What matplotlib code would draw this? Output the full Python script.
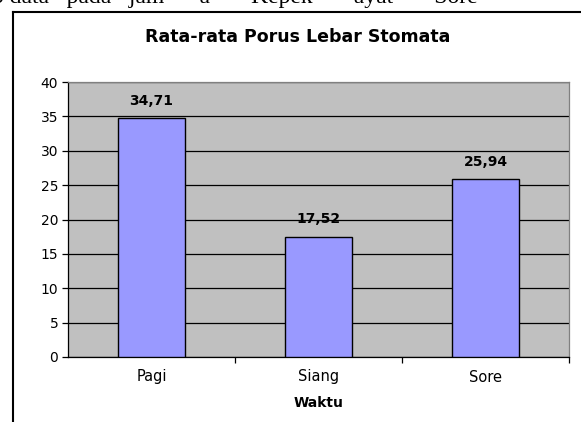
import matplotlib
matplotlib.use('Agg')
import matplotlib.pyplot as plt
from matplotlib.lines import Line2D

# data
waktu = ['Pagi', 'Siang', 'Sore']
nilai = [34.71, 17.52, 25.94]
label_nilai = ['34,71', '17,52', '25,94']
y_ticks = [0, 5, 10, 15, 20, 25, 30, 35, 40]

plt.rcParams['font.family'] = ['DejaVu Sans']

fig = plt.figure(figsize=(5.81, 4.22), dpi=100)

# sisa teks dokumen yang terpotong di atas
fig.text(-8 / 581, 1 - 3 / 422, 'o data   pada   jam      a       Kepek       ayat       Sore',
         ha='left', va='baseline', fontsize=17, family=['Liberation Serif', 'DejaVu Serif'])

# bingkai luar chart
fx = 13 / 581
fy = 1 - 12 / 422
fig.add_artist(Line2D([fx, fx], [0, fy], color='black', lw=1.5, transform=fig.transFigure))
fig.add_artist(Line2D([fx, 1], [fy, fy], color='black', lw=1.5, transform=fig.transFigure))

fig.text(0.513, 1 - 37 / 422, 'Rata-rata Porus Lebar Stomata', ha='center', va='center',
         fontsize=12.5, fontweight='bold')

ax = fig.add_axes([68 / 581, 1 - 357 / 422, (569 - 68) / 581, (357 - 82) / 422])
ax.set_facecolor('#C0C0C0')
ax.set_axisbelow(True)
ax.yaxis.grid(True, color='black', lw=0.9)

x = range(len(waktu))
ax.bar(x, nilai, width=0.4, color='#9999FF', edgecolor='black', lw=1.0, zorder=3)
for i, v in enumerate(nilai):
    ax.text(i, v + 1.9, label_nilai[i], ha='center', va='baseline', fontsize=10, fontweight='bold')

ax.set_xlim(-0.5, 2.5)
ax.set_ylim(0, 40)
ax.set_yticks(y_ticks)
ax.set_xticks(list(x))
ax.set_xticklabels(waktu, fontsize=10.5)
ax.set_xticks([0.5, 1.5, 2.5], minor=True)
ax.tick_params(axis='x', which='major', length=0, pad=9)
ax.tick_params(axis='x', which='minor', length=4, direction='out', width=0.9)
ax.tick_params(axis='y', length=4, direction='out', width=0.9, labelsize=10, pad=3)
ax.set_xlabel('Waktu', fontsize=10, fontweight='bold', labelpad=8)

ax.spines['left'].set_color('black')
ax.spines['bottom'].set_color('black')
ax.spines['top'].set_color('#808080')
ax.spines['right'].set_color('#808080')
for s in ax.spines.values():
    s.set_linewidth(0.9)

fig.savefig('out.png', dpi=100)
